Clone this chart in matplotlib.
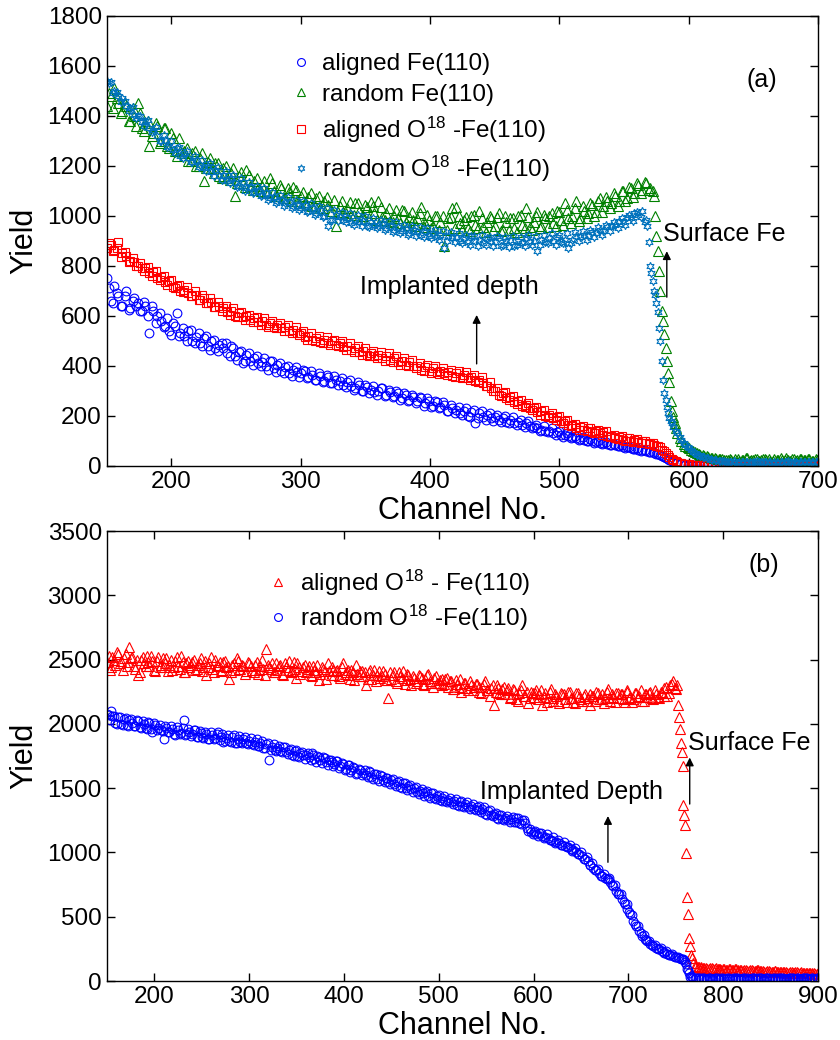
import numpy as np
import matplotlib
matplotlib.use('Agg')
import matplotlib.pyplot as plt

plt.rcParams['font.family'] = ['Liberation Sans', 'DejaVu Sans']
plt.rcParams['mathtext.fontset'] = 'custom'
plt.rcParams['mathtext.rm'] = 'Liberation Sans'
plt.rcParams['mathtext.default'] = 'regular'

# ---------------- panel (a) ----------------
# two interleaved read-offs: channels 150,153,... and 152,155,...
ch_a = np.arange(150, 700, 3)
ch_a2 = np.arange(152, 700, 3)

aligned_fe = [
    750, 660, 720, 680, 640, 700, 630, 670, 650, 620,
    640, 530, 620, 600, 580, 560, 540, 570, 610, 530,
    520, 540, 500, 515, 490, 510, 480, 500, 470, 485,
    470, 450, 480, 440, 455, 410, 445, 420, 430, 410,
    415, 400, 420, 390, 405, 380, 395, 370, 385, 375,
    370, 380, 355, 365, 345, 360, 340, 355, 330, 345,
    340, 325, 335, 320, 310, 325, 300, 315, 305, 295,
    300, 310, 285, 295, 280, 290, 270, 285, 265, 275,
    260, 270, 250, 260, 240, 255, 235, 245, 220, 230,
    225, 210, 220, 200, 215, 170, 210, 195, 205, 190,
    195, 185, 190, 175, 185, 170, 175, 165, 170, 160,
    155, 150, 145, 140, 140, 130, 135, 125, 125, 118,
    115, 112, 108, 105, 100, 100, 95, 92, 90, 86,
    85, 82, 80, 76, 74, 70, 68, 65, 62, 60,
    56, 52, 47, 40, 32, 22, 15, 10, 7, 5,
    4, 3, 4, 2, 3, 3, 2, 3, 4, 2,
    3, 2, 3, 3, 2, 4, 3, 2, 3, 3,
    2, 3, 4, 2, 3, 2, 3, 3, 2, 3,
    4, 2, 3, 3]
aligned_fe2 = [
    710, 650, 690, 640, 680, 625, 660, 640, 620, 655,
    600, 640, 570, 610, 555, 590, 525, 560, 520, 550,
    500, 545, 490, 530, 480, 520, 465, 505, 460, 490,
    490, 440, 470, 425, 460, 420, 450, 405, 440, 400,
    430, 385, 420, 375, 410, 370, 400, 360, 395, 355,
    385, 350, 380, 345, 370, 335, 365, 330, 360, 325,
    350, 315, 345, 305, 335, 300, 325, 290, 320, 285,
    310, 280, 305, 275, 300, 265, 290, 260, 285, 250,
    275, 240, 270, 235, 260, 230, 255, 220, 245, 210,
    235, 205, 230, 195, 225, 190, 220, 185, 210, 180,
    205, 175, 200, 170, 195, 165, 185, 155, 180, 150,
    165, 140, 160, 135, 150, 125, 140, 115, 130, 110,
    120, 105, 115, 100, 108, 92, 100, 88, 95, 82,
    88, 78, 82, 72, 76, 66, 70, 60, 64, 55,
    55, 48, 42, 35, 26, 18, 12, 8, 6, 4,
    3, 4, 2, 3, 3, 2, 4, 3, 2, 3,
    3, 2, 3, 4, 2, 3, 3, 2, 3, 4,
    2, 3, 3, 2, 4, 3, 2, 3, 3, 2,
    3, 2, 3]

random_fe = [
    1440, 1480, 1510, 1450, 1420, 1440, 1380, 1400, 1450, 1350,
    1370, 1280, 1330, 1360, 1300, 1350, 1270, 1310, 1240, 1260,
    1260, 1220, 1250, 1200, 1230, 1140, 1215, 1190, 1210, 1160,
    1190, 1150, 1170, 1080, 1160, 1130, 1185, 1120, 1140, 1110,
    1120, 1095, 1150, 1100, 1080, 1110, 1070, 1095, 1115, 1060,
    1080, 1055, 1075, 1040, 1070, 1030, 1060, 1045, 1020, 960,
    1040, 1015, 1030, 1005, 1050, 1020, 1000, 1035, 1055, 1010,
    1060, 995, 1010, 980, 1000, 990, 1025, 975, 995, 985,
    990, 1035, 970, 985, 960, 1000, 975, 880, 990, 1030,
    1035, 970, 985, 950, 1000, 965, 1020, 955, 975, 990,
    960, 1010, 945, 975, 990, 950, 1000, 965, 1030, 955,
    975, 1015, 960, 990, 1000, 970, 1020, 985, 1050, 990,
    1000, 1060, 990, 1020, 1010, 1045, 1015, 1070, 1040, 1060,
    1050, 1080, 1060, 1100, 1070, 1110, 1090, 1125, 1105, 1130,
    1110, 1080, 860, 620, 470, 337, 195, 132, 100, 80,
    70, 60, 50, 45, 40, 35, 30, 28, 27, 25,
    25, 22, 28, 20, 24, 30, 22, 26, 21, 27,
    24, 20, 27, 22, 25, 30, 21, 26, 23, 28,
    22, 27, 20, 25]
random_fe2 = [
    1490, 1430, 1470, 1410, 1450, 1380, 1430, 1360, 1410, 1340,
    1380, 1320, 1370, 1290, 1350, 1280, 1330, 1260, 1310, 1250,
    1270, 1220, 1260, 1200, 1250, 1190, 1230, 1170, 1210, 1150,
    1200, 1145, 1190, 1130, 1175, 1115, 1165, 1105, 1150, 1100,
    1140, 1090, 1130, 1080, 1125, 1070, 1110, 1060, 1105, 1050,
    1095, 1045, 1090, 1040, 1080, 1030, 1075, 1020, 1065, 1015,
    1060, 1010, 1055, 1005, 1050, 1000, 1045, 990, 1040, 985,
    1035, 985, 1030, 975, 1025, 970, 1020, 965, 1015, 960,
    1010, 955, 1005, 950, 1000, 945, 1000, 945, 995, 950,
    1000, 945, 995, 940, 1005, 950, 990, 935, 1000, 945,
    995, 940, 1000, 945, 990, 935, 1005, 950, 995, 945,
    1000, 950, 1005, 955, 1010, 960, 1015, 965, 1025, 970,
    1030, 980, 1040, 990, 1050, 1000, 1060, 1015, 1075, 1030,
    1090, 1040, 1100, 1060, 1115, 1075, 1130, 1090, 1135, 1105,
    1100, 920, 700, 528, 370, 220, 150, 110, 88, 75,
    65, 55, 48, 42, 38, 33, 30, 27, 26, 24,
    28, 21, 26, 23, 30, 20, 25, 29, 22, 26,
    27, 21, 25, 31, 22, 24, 28, 20, 26, 23,
    26, 21, 29]

aligned_o18 = [
    870, 885, 865, 895, 850, 840, 820, 815, 800, 790,
    790, 770, 775, 750, 755, 735, 740, 715, 720, 700,
    705, 690, 680, 685, 665, 670, 650, 655, 635, 640,
    630, 615, 620, 600, 610, 595, 600, 585, 590, 575,
    580, 565, 570, 555, 565, 550, 555, 540, 545, 530,
    530, 515, 520, 505, 510, 495, 505, 490, 500, 485,
    490, 475, 480, 465, 470, 455, 460, 445, 450, 440,
    445, 430, 440, 425, 430, 415, 420, 405, 415, 400,
    400, 385, 395, 380, 390, 375, 380, 370, 375, 360,
    370, 355, 365, 350, 355, 340, 345, 330, 320, 310,
    300, 285, 290, 270, 275, 255, 260, 240, 245, 230,
    230, 215, 220, 200, 205, 190, 195, 180, 180, 165,
    165, 150, 155, 145, 150, 135, 140, 130, 135, 120,
    120, 110, 115, 105, 110, 100, 105, 95, 100, 90,
    90, 85, 80, 65, 50, 35, 22, 15, 10, 7,
    6, 4, 5, 3, 4, 3, 2, 4, 3, 2,
    3, 2, 4, 3, 2, 3, 4, 2, 3, 3,
    2, 4, 3, 2, 3, 3, 4, 2, 3, 3,
    2, 4, 3, 3]
aligned_o18_2 = [
    890, 860, 870, 835, 855, 815, 830, 800, 810, 780,
    795, 760, 780, 745, 760, 725, 745, 710, 725, 695,
    715, 680, 700, 665, 685, 650, 670, 635, 655, 620,
    640, 605, 630, 595, 615, 585, 605, 575, 595, 565,
    590, 555, 580, 550, 570, 540, 565, 530, 555, 525,
    540, 505, 530, 500, 520, 490, 515, 485, 505, 478,
    500, 465, 490, 455, 480, 445, 470, 440, 460, 430,
    455, 420, 450, 415, 440, 405, 430, 400, 425, 390,
    410, 380, 405, 372, 398, 368, 392, 362, 385, 355,
    380, 350, 375, 345, 365, 335, 355, 320, 335, 300,
    310, 280, 295, 262, 280, 248, 265, 235, 250, 222,
    235, 205, 222, 195, 210, 182, 198, 170, 185, 158,
    168, 145, 160, 138, 152, 130, 145, 124, 138, 116,
    125, 106, 120, 100, 112, 95, 106, 90, 100, 86,
    92, 80, 75, 58, 42, 28, 18, 12, 8, 6,
    5, 3, 4, 5, 2, 3, 4, 3, 2, 4,
    2, 3, 4, 3, 2, 4, 3, 3, 2, 3,
    4, 2, 3, 3, 2, 4, 3, 2, 3, 4,
    3, 2, 3]

random_o18 = [
    1540, 1535, 1500, 1480, 1470, 1440, 1430, 1405, 1400, 1375,
    1380, 1350, 1345, 1320, 1300, 1305, 1280, 1265, 1270, 1240,
    1250, 1230, 1215, 1225, 1205, 1190, 1200, 1175, 1185, 1160,
    1165, 1140, 1150, 1130, 1120, 1135, 1110, 1115, 1095, 1100,
    1085, 1090, 1070, 1075, 1060, 1065, 1050, 1055, 1040, 1045,
    1030, 1045, 1020, 1030, 1010, 1025, 1000, 960, 985, 1005,
    995, 985, 990, 970, 985, 975, 980, 960, 975, 965,
    960, 970, 950, 960, 945, 955, 940, 950, 930, 945,
    935, 925, 940, 920, 930, 915, 925, 870, 920, 910,
    915, 900, 910, 895, 920, 900, 905, 890, 910, 900,
    895, 910, 885, 900, 905, 880, 900, 890, 910, 895,
    900, 860, 905, 895, 910, 900, 915, 895, 905, 870,
    905, 920, 915, 925, 920, 935, 930, 945, 940, 955,
    960, 965, 980, 975, 995, 990, 1010, 1005, 1020, 985,
    800, 700, 617, 420, 265, 191, 157, 130, 105, 85,
    70, 55, 45, 40, 35, 30, 25, 22, 20, 18,
    16, 15, 17, 14, 16, 15, 13, 16, 15, 14,
    15, 14, 16, 13, 15, 14, 16, 15, 13, 14,
    15, 16, 14, 15]
random_o18_2 = [
    1530, 1490, 1495, 1455, 1460, 1420, 1435, 1390, 1400, 1360,
    1385, 1335, 1355, 1300, 1325, 1275, 1300, 1250, 1275, 1230,
    1260, 1215, 1240, 1195, 1225, 1180, 1210, 1160, 1195, 1145,
    1180, 1130, 1165, 1115, 1150, 1100, 1135, 1090, 1120, 1080,
    1110, 1065, 1095, 1050, 1085, 1040, 1075, 1030, 1065, 1025,
    1060, 1015, 1050, 1005, 1040, 995, 1030, 985, 1025, 980,
    1015, 975, 1010, 965, 1005, 960, 1000, 955, 990, 950,
    985, 945, 980, 935, 975, 930, 965, 925, 960, 920,
    955, 915, 950, 910, 945, 905, 940, 900, 935, 895,
    930, 890, 925, 885, 920, 880, 925, 885, 915, 880,
    920, 880, 915, 875, 920, 885, 915, 880, 925, 885,
    920, 885, 925, 890, 930, 885, 925, 890, 930, 890,
    935, 900, 940, 905, 945, 915, 955, 925, 965, 940,
    975, 950, 990, 965, 1005, 980, 1015, 995, 975, 897,
    740, 650, 500, 291, 210, 170, 140, 115, 92, 76,
    62, 50, 42, 37, 32, 27, 24, 21, 19, 17,
    15, 18, 13, 16, 17, 14, 15, 18, 14, 16,
    17, 13, 15, 16, 14, 18, 13, 15, 17, 14,
    16, 14, 15]

# remaining single channels on the steep surface edge
edge_ch_fe = [574, 577, 580, 583, 586, 589]
edge_random_fe = [1000, 780, 581, 420, 260, 170]
edge_ch_o18 = [568, 571, 574, 577, 580, 583, 586]
edge_random_o18 = [960, 771, 684, 552, 344, 237, 180]

# ---------------- panel (b) ----------------
ch_b = np.arange(150, 901, 3)
ch_b2 = np.arange(152, 900, 3)

aligned_o18_b = [
    2480, 2420, 2520, 2460, 2540, 2490, 2510, 2450, 2600, 2520,
    2430, 2380, 2500, 2470, 2530, 2450, 2490, 2410, 2520, 2460,
    2440, 2510, 2460, 2420, 2490, 2450, 2530, 2400, 2470, 2440,
    2480, 2420, 2460, 2510, 2440, 2380, 2470, 2430, 2500, 2450,
    2410, 2480, 2440, 2350, 2460, 2420, 2490, 2430, 2450, 2410,
    2470, 2420, 2460, 2390, 2450, 2430, 2580, 2440, 2470, 2400,
    2420, 2460, 2380, 2440, 2490, 2410, 2430, 2470, 2390, 2440,
    2400, 2450, 2370, 2420, 2460, 2390, 2430, 2350, 2410, 2440,
    2380, 2420, 2360, 2470, 2400, 2380, 2420, 2340, 2390, 2410,
    2370, 2300, 2400, 2350, 2420, 2380, 2360, 2410, 2340, 2200,
    2350, 2400, 2320, 2370, 2410, 2340, 2380, 2300, 2360, 2330,
    2370, 2310, 2350, 2390, 2320, 2360, 2320, 2340, 2300, 2350,
    2290, 2330, 2270, 2310, 2350, 2280, 2320, 2260, 2300, 2290,
    2310, 2250, 2290, 2330, 2260, 2280, 2150, 2300, 2240, 2270,
    2230, 2280, 2210, 2260, 2190, 2240, 2300, 2220, 2160, 2250,
    2210, 2260, 2230, 2150, 2240, 2200, 2270, 2180, 2220, 2160,
    2230, 2190, 2250, 2200, 2170, 2240, 2210, 2180, 2230, 2200,
    2150, 2220, 2250, 2190, 2230, 2200, 2270, 2180, 2210, 2240,
    2200, 2230, 2170, 2260, 2210, 2190, 2240, 2220, 2180, 2230,
    2210, 2250, 2190, 2230, 2200, 2240, 2280, 2220, 2300, 2330,
    2270, 2055, 1780, 1290, 650, 270, 140, 115, 110, 105,
    105, 95, 100, 90, 98, 92, 88, 95, 85, 90,
    85, 92, 80, 88, 83, 78, 86, 80, 75, 82,
    78, 72, 80, 74, 70, 77, 68, 73, 70, 66,
    72, 65, 68, 62, 70, 64, 60, 66, 62, 58,
    60]
aligned_o18_b2 = [
    2530, 2440, 2500, 2560, 2470, 2420, 2540, 2480, 2510, 2450,
    2500, 2400, 2520, 2450, 2480, 2530, 2420, 2490, 2440, 2510,
    2470, 2410, 2500, 2440, 2520, 2430, 2480, 2400, 2490, 2460,
    2500, 2430, 2470, 2410, 2490, 2440, 2520, 2400, 2460, 2480,
    2420, 2490, 2450, 2400, 2470, 2510, 2430, 2460, 2390, 2480,
    2450, 2400, 2480, 2420, 2500, 2380, 2460, 2430, 2400, 2470,
    2450, 2390, 2470, 2420, 2400, 2480, 2360, 2440, 2410, 2460,
    2430, 2380, 2450, 2400, 2340, 2440, 2410, 2470, 2380, 2420,
    2410, 2370, 2440, 2390, 2420, 2350, 2400, 2460, 2370, 2410,
    2400, 2350, 2420, 2380, 2330, 2410, 2370, 2390, 2340, 2400,
    2380, 2330, 2400, 2360, 2310, 2390, 2350, 2370, 2320, 2380,
    2360, 2300, 2380, 2330, 2290, 2370, 2320, 2350, 2310, 2360,
    2330, 2270, 2340, 2290, 2250, 2320, 2280, 2330, 2260, 2310,
    2290, 2240, 2310, 2260, 2220, 2300, 2250, 2280, 2230, 2290,
    2260, 2200, 2270, 2230, 2180, 2260, 2220, 2250, 2200, 2240,
    2240, 2190, 2260, 2210, 2170, 2250, 2200, 2230, 2180, 2240,
    2230, 2170, 2250, 2200, 2160, 2240, 2190, 2220, 2180, 2230,
    2220, 2180, 2240, 2190, 2160, 2250, 2200, 2230, 2170, 2240,
    2230, 2190, 2250, 2200, 2170, 2240, 2210, 2260, 2180, 2230,
    2240, 2200, 2260, 2210, 2250, 2220, 2290, 2240, 2310, 2280,
    2150, 1853, 1369, 993, 337, 176, 120, 112, 108, 104,
    100, 96, 102, 92, 97, 90, 95, 88, 93, 87,
    90, 84, 88, 81, 86, 79, 84, 77, 82, 76,
    79, 73, 77, 71, 75, 69, 73, 67, 71, 65,
    69, 63, 67, 61, 65, 60, 64, 58, 62, 57]

random_o18_b = [
    2080, 2030, 2060, 2010, 2050, 2000, 2040, 1990, 2030, 2010,
    1980, 2020, 1970, 2000, 1960, 2010, 1940, 1990, 1970, 1950,
    1880, 1970, 1940, 1960, 1910, 1950, 1930, 2030, 1920, 1940,
    1920, 1950, 1900, 1930, 1890, 1920, 1880, 1910, 1890, 1940,
    1900, 1860, 1890, 1870, 1900, 1850, 1880, 1860, 1880, 1850,
    1870, 1840, 1860, 1830, 1850, 1810, 1840, 1720, 1820, 1800,
    1810, 1790, 1820, 1780, 1800, 1760, 1790, 1750, 1770, 1760,
    1760, 1740, 1770, 1730, 1750, 1720, 1740, 1700, 1720, 1700,
    1690, 1710, 1670, 1690, 1650, 1680, 1640, 1660, 1620, 1640,
    1620, 1600, 1630, 1590, 1610, 1570, 1600, 1560, 1580, 1550,
    1560, 1530, 1550, 1510, 1540, 1500, 1520, 1490, 1500, 1470,
    1480, 1460, 1470, 1440, 1460, 1420, 1440, 1410, 1420, 1400,
    1410, 1390, 1400, 1370, 1390, 1360, 1380, 1350, 1360, 1340,
    1350, 1330, 1340, 1300, 1320, 1290, 1300, 1270, 1290, 1260,
    1270, 1250, 1260, 1240, 1270, 1230, 1250, 1230, 1170, 1160,
    1160, 1140, 1150, 1130, 1120, 1110, 1100, 1090, 1080, 1070,
    1060, 1050, 1040, 1030, 1020, 1000, 990, 970, 950, 930,
    900, 880, 860, 840, 820, 800, 790, 770, 740, 700,
    680, 640, 600, 560, 520, 470, 430, 390, 350, 330,
    310, 290, 270, 260, 250, 235, 220, 210, 205, 195,
    185, 180, 175, 165, 90, 35, 25, 22, 20, 20,
    21, 18, 22, 19, 20, 17, 21, 19, 22, 18,
    20, 21, 17, 19, 22, 20, 18, 21, 19, 20,
    22, 18, 20, 19, 21, 17, 20, 22, 19, 18,
    21, 20, 19, 22, 18, 20, 21, 19, 20, 18,
    20]
random_o18_b2 = [
    2070, 2100, 2060, 2000, 2050, 1995, 2045, 1985, 2035, 1980,
    2030, 1975, 2020, 1965, 2015, 1960, 2005, 1950, 1995, 1945,
    1985, 1935, 1980, 1925, 1975, 1920, 1965, 1910, 1960, 1905,
    1950, 1900, 1945, 1895, 1940, 1885, 1935, 1880, 1925, 1875,
    1920, 1870, 1915, 1860, 1910, 1855, 1905, 1850, 1895, 1845,
    1890, 1835, 1880, 1825, 1870, 1810, 1855, 1800, 1845, 1790,
    1830, 1780, 1820, 1765, 1805, 1750, 1795, 1740, 1780, 1730,
    1770, 1720, 1760, 1705, 1745, 1695, 1735, 1680, 1720, 1670,
    1710, 1655, 1695, 1640, 1680, 1625, 1665, 1610, 1650, 1600,
    1640, 1585, 1625, 1570, 1610, 1555, 1595, 1545, 1580, 1530,
    1570, 1515, 1555, 1500, 1540, 1485, 1525, 1470, 1510, 1455,
    1495, 1440, 1480, 1425, 1465, 1415, 1450, 1400, 1440, 1390,
    1425, 1375, 1415, 1365, 1400, 1355, 1390, 1340, 1375, 1330,
    1365, 1315, 1350, 1295, 1330, 1280, 1310, 1260, 1295, 1250,
    1285, 1240, 1275, 1235, 1265, 1225, 1255, 1190, 1180, 1140,
    1170, 1130, 1155, 1115, 1140, 1095, 1120, 1075, 1100, 1060,
    1080, 1040, 1055, 1015, 1035, 985, 1005, 950, 965, 905,
    915, 860, 875, 820, 835, 790, 800, 745, 750, 680,
    680, 615, 600, 535, 515, 445, 430, 370, 360, 320,
    315, 280, 280, 250, 255, 225, 230, 205, 210, 190,
    185, 175, 170, 130, 60, 30, 24, 21, 19, 22,
    19, 21, 18, 22, 20, 17, 21, 19, 23, 18,
    20, 22, 17, 21, 19, 18, 22, 20, 19, 21,
    18, 21, 20, 19, 22, 18, 20, 21, 17, 20,
    21, 19, 20, 18, 22, 20, 19, 21, 18, 20]

edge_ch_b = [751, 754, 757, 760, 763, 766]
edge_aligned_o18_b = [2300, 1957, 1672, 1213, 520, 200]
edge_ch_b2 = [760, 763, 766]
edge_random_o18_b = [150, 86, 40]

c_blue = '#0000FF'
c_green = '#008000'
c_red = '#FF0000'
c_star = '#0072BD'
star = (6, 1, 0)

fig = plt.figure(figsize=(8.4, 10.4), dpi=100)
ax1 = fig.add_axes([0.127, 0.552, 0.847, 0.4327])
ax2 = fig.add_axes([0.127, 0.0567, 0.847, 0.4327])

mk = dict(linestyle='none', markerfacecolor='none', markeredgewidth=0.8)
cat = np.concatenate

ax1.plot(cat([ch_a, ch_a2]), cat([aligned_fe, aligned_fe2]),
         marker='o', ms=6.3, color=c_blue, label='aligned Fe(110)', **mk)
ax1.plot(cat([ch_a, ch_a2, edge_ch_fe]), cat([random_fe, random_fe2, edge_random_fe]),
         marker='^', ms=6.5, color=c_green, label='random Fe(110)', **mk)
ax1.plot(cat([ch_a, ch_a2]), cat([aligned_o18, aligned_o18_2]),
         marker='s', ms=6, color=c_red, label='aligned O$^{18}$ -Fe(110)', **mk)
ax1.plot(cat([ch_a, ch_a2, edge_ch_o18]), cat([random_o18, random_o18_2, edge_random_o18]),
         marker=star, ms=6, color=c_star, label='random O$^{18}$ -Fe(110)', **mk)

ax2.plot(cat([ch_b, ch_b2, edge_ch_b]), cat([aligned_o18_b, aligned_o18_b2, edge_aligned_o18_b]),
         marker='^', ms=6.5, color=c_red, label='aligned O$^{18}$ - Fe(110)', **mk)
ax2.plot(cat([ch_b, ch_b2, edge_ch_b2]), cat([random_o18_b, random_o18_b2, edge_random_o18_b]),
         marker='o', ms=6.3, color=c_blue, label='random O$^{18}$ -Fe(110)', **mk)

fs = 17.5
for ax in (ax1, ax2):
    ax.tick_params(direction='in', top=True, right=True, length=6, width=1, labelsize=fs)
    for s in ax.spines.values():
        s.set_linewidth(1)
    ax.set_xlabel('Channel No.', fontsize=22, labelpad=2)
    ax.set_ylabel('Yield', fontsize=22, labelpad=6)

ax1.set_xlim(150, 700)
ax1.set_ylim(0, 1800)
ax1.set_xticks([200, 300, 400, 500, 600, 700])
ax1.set_yticks(np.arange(0, 1801, 200))
ax2.set_xlim(150, 900)
ax2.set_ylim(0, 3500)
ax2.set_xticks([200, 300, 400, 500, 600, 700, 800, 900])
ax2.set_yticks(np.arange(0, 3501, 500))

ax1.legend(loc='upper left', bbox_to_anchor=(0.235, 0.955), frameon=False, fontsize=fs,
           handlelength=0.8, handletextpad=0.5, labelspacing=0.36, borderpad=0.2,
           markerscale=0.9)
ax2.legend(loc='upper left', bbox_to_anchor=(0.203, 0.957), frameon=False, fontsize=fs,
           handlelength=0.8, handletextpad=0.5, labelspacing=0.2, borderpad=0.2,
           markerscale=0.9)

ax1.text(0.921, 0.858, '(a)', transform=ax1.transAxes, fontsize=18, ha='center', va='center')
ax2.text(0.924, 0.924, '(b)', transform=ax2.transAxes, fontsize=18, ha='center', va='center')

fa = 18
arr = dict(arrowstyle='-|>', color='k', lw=1, mutation_scale=12)
ax1.text(580, 928, 'Surface Fe', fontsize=fa, ha='left', va='center')
ax1.annotate('', xy=(583, 870), xytext=(583, 664), arrowprops=arr)
ax1.text(346, 716, 'Implanted depth', fontsize=fa, ha='left', va='center')
ax1.annotate('', xy=(436, 615), xytext=(436, 397), arrowprops=arr)

ax2.text(763, 1848, 'Surface Fe', fontsize=fa, ha='left', va='center')
ax2.annotate('', xy=(764.6, 1760), xytext=(764.6, 1355), arrowprops=arr)
ax2.text(544, 1472, 'Implanted Depth', fontsize=fa, ha='left', va='center')
ax2.annotate('', xy=(678.4, 1305), xytext=(678.4, 902), arrowprops=arr)

fig.savefig('out.png', dpi=100)
